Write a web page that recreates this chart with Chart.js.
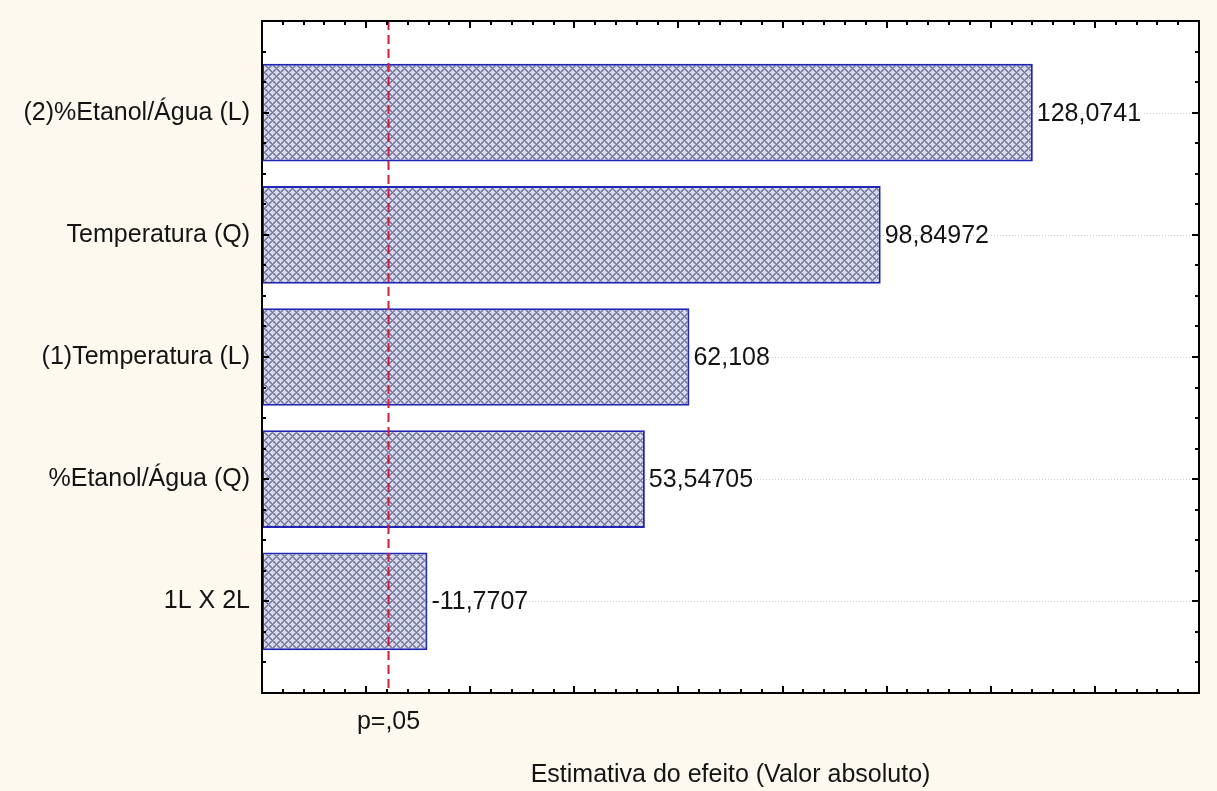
<!DOCTYPE html>
<html>
<head>
<meta charset="utf-8">
<script src="https://cdn.jsdelivr.net/npm/chart.js@4.4.1/dist/chart.umd.min.js"></script>
<style>
  html, body { margin: 0; padding: 0; background: #fdf9ee; }
  #wrap { position: relative; width: 1217px; height: 791px; }
</style>
</head>
<body>
<div id="wrap"><canvas id="chart" width="1217" height="791"></canvas></div>
<script>
// Pareto chart of standardized effects
const factors = [
  '(2)%Etanol/Água (L)',
  'Temperatura (Q)',
  '(1)Temperatura (L)',
  '%Etanol/Água (Q)',
  '1L X 2L'
];
const effects = [128.0741, 98.84972, 62.108, 53.54705, -11.7707];
const pCritical = 4.303;      // t(0.025; 2 df)
const pLabel = 'p=,05';
const xMin = -20, xMax = 160;
const xMajorStep = 20, xMinorStep = 4;
const yMinorStep = 0.25;

const FONT = '"Liberation Sans", Arial, sans-serif';
const FONT_SIZE = 25;

// Cross-hatched fill used by the bars
function hatchPattern() {
  const n = 8;
  const c = document.createElement('canvas');
  c.width = n; c.height = n;
  const g = c.getContext('2d');
  const img = g.createImageData(n, n);
  for (let y = 0; y < n; y++) {
    for (let x = 0; x < n; x++) {
      const a = ((x + y) % n + n) % n, b = ((x - y) % n + n) % n;
      const onLine = a === 0 || b === 0;
      const nearLine = a === 1 || a === n - 1 || b === 1 || b === n - 1;
      let col;
      if (onLine) col = [112, 115, 156];
      else if (nearLine) col = (x + y) % 2 ? [158, 160, 192] : [184, 186, 212];
      else col = (x + y) % 2 ? [204, 206, 226] : [228, 229, 242];
      const i = (y * n + x) * 4;
      img.data[i] = col[0]; img.data[i + 1] = col[1]; img.data[i + 2] = col[2]; img.data[i + 3] = 255;
    }
  }
  g.putImageData(img, 0, 0);
  return g.createPattern(c, 'repeat');
}

const ctx = document.getElementById('chart').getContext('2d');

// White plot area, frame, inward ticks, critical line and value labels
const decorations = {
  id: 'decorations',
  beforeDatasetsDraw(chart) {
    const { ctx, chartArea: a } = chart;
    ctx.save();
    ctx.fillStyle = '#ffffff';
    ctx.fillRect(a.left, a.top, a.right - a.left, a.bottom - a.top);
    // dotted guide lines at each factor
    const ys = chart.scales.y;
    ctx.strokeStyle = '#cfcfcf';
    ctx.lineWidth = 1;
    ctx.setLineDash([1, 2]);
    factors.forEach((f, i) => {
      const py = Math.round(ys.getPixelForValue(i)) + 0.5;
      ctx.beginPath(); ctx.moveTo(a.left, py); ctx.lineTo(a.right, py); ctx.stroke();
    });
    ctx.restore();
  },
  afterDatasetsDraw(chart) {
    const { ctx, chartArea: a } = chart;
    const xs = chart.scales.x, ys = chart.scales.y;
    ctx.save();
    // critical value line
    const px = xs.getPixelForValue(pCritical);
    ctx.strokeStyle = '#d01c3a';
    ctx.lineWidth = 2;
    ctx.setLineDash([9, 5]);
    ctx.beginPath(); ctx.moveTo(px, a.top); ctx.lineTo(px, a.bottom); ctx.stroke();
    ctx.setLineDash([]);

    // value labels
    ctx.fillStyle = '#141414';
    ctx.font = FONT_SIZE + 'px ' + FONT;
    ctx.textBaseline = 'middle';
    ctx.textAlign = 'left';
    const meta = chart.getDatasetMeta(0);
    meta.data.forEach((bar, i) => {
      ctx.fillText(String(effects[i]).replace('.', ','), bar.x + 4, bar.y + 1);
    });

    // frame
    ctx.strokeStyle = '#000000';
    ctx.lineWidth = 2;
    ctx.strokeRect(a.left, a.top, a.right - a.left, a.bottom - a.top);

    // inward ticks on all four sides
    ctx.lineWidth = 2;
    ctx.beginPath();
    for (let v = xMin + xMinorStep; v < xMax - 1e-9; v += xMinorStep) {
      const x = Math.round(xs.getPixelForValue(v));
      const major = Math.abs(v / xMajorStep - Math.round(v / xMajorStep)) < 1e-9;
      const len = major ? 7 : 4;
      ctx.moveTo(x, a.bottom); ctx.lineTo(x, a.bottom - len);
      ctx.moveTo(x, a.top); ctx.lineTo(x, a.top + len);
    }
    for (let v = ys.min + yMinorStep; v < ys.max - 1e-9; v += yMinorStep) {
      const y = Math.round(ys.getPixelForValue(v));
      const major = Math.abs(v - Math.round(v)) < 1e-9;
      const len = major ? 7 : 4;
      ctx.moveTo(a.left, y); ctx.lineTo(a.left + len, y);
      ctx.moveTo(a.right, y); ctx.lineTo(a.right - len, y);
    }
    ctx.stroke();
    ctx.restore();
  }
};

new Chart(ctx, {
  type: 'bar',
  data: {
    datasets: [{
      data: effects.map((v, i) => ({ x: Math.abs(v), y: i })),
      base: xMin,
      backgroundColor: hatchPattern(),
      borderColor: '#2326b4',
      borderWidth: 2,
      borderSkipped: false,
      barPercentage: 0.8,
      categoryPercentage: 1.0
    }]
  },
  options: {
    indexAxis: 'y',
    responsive: false,
    animation: false,
    layout: { padding: { top: 21, right: 18, left: 0, bottom: 0 } },
    plugins: { legend: { display: false }, tooltip: { enabled: false } },
    scales: {
      x: {
        type: 'linear',
        min: xMin, max: xMax,
        offset: false,
        border: { display: false },
        grid: { display: false, drawTicks: false },
        afterBuildTicks(scale) { scale.ticks = [{ value: pCritical }]; },
        afterFit(scale) {
          scale.height = 98;
          scale.paddingLeft = 0; scale.paddingRight = 0;
        },
        ticks: {
          padding: 14,
          color: '#141414',
          font: { family: FONT, size: FONT_SIZE },
          callback: () => pLabel
        },
        title: {
          display: true,
          text: 'Estimativa do efeito (Valor absoluto)',
          color: '#141414',
          font: { family: FONT, size: FONT_SIZE },
          padding: { top: 0, bottom: 1 }
        }
      },
      y: {
        type: 'linear',
        reverse: true,
        min: -0.75, max: 4.75,
        offset: false,
        border: { display: false },
        grid: { display: false, drawTicks: false },
        afterBuildTicks(scale) { scale.ticks = factors.map((f, i) => ({ value: i })); },
        afterFit(scale) {
          scale.width = 262;
          scale.paddingTop = 0; scale.paddingBottom = 0;
        },
        ticks: {
          padding: 12,
          color: '#141414',
          font: { family: FONT, size: FONT_SIZE },
          callback: (v) => factors[v]
        }
      }
    }
  },
  plugins: [decorations]
});
</script>
</body>
</html>
